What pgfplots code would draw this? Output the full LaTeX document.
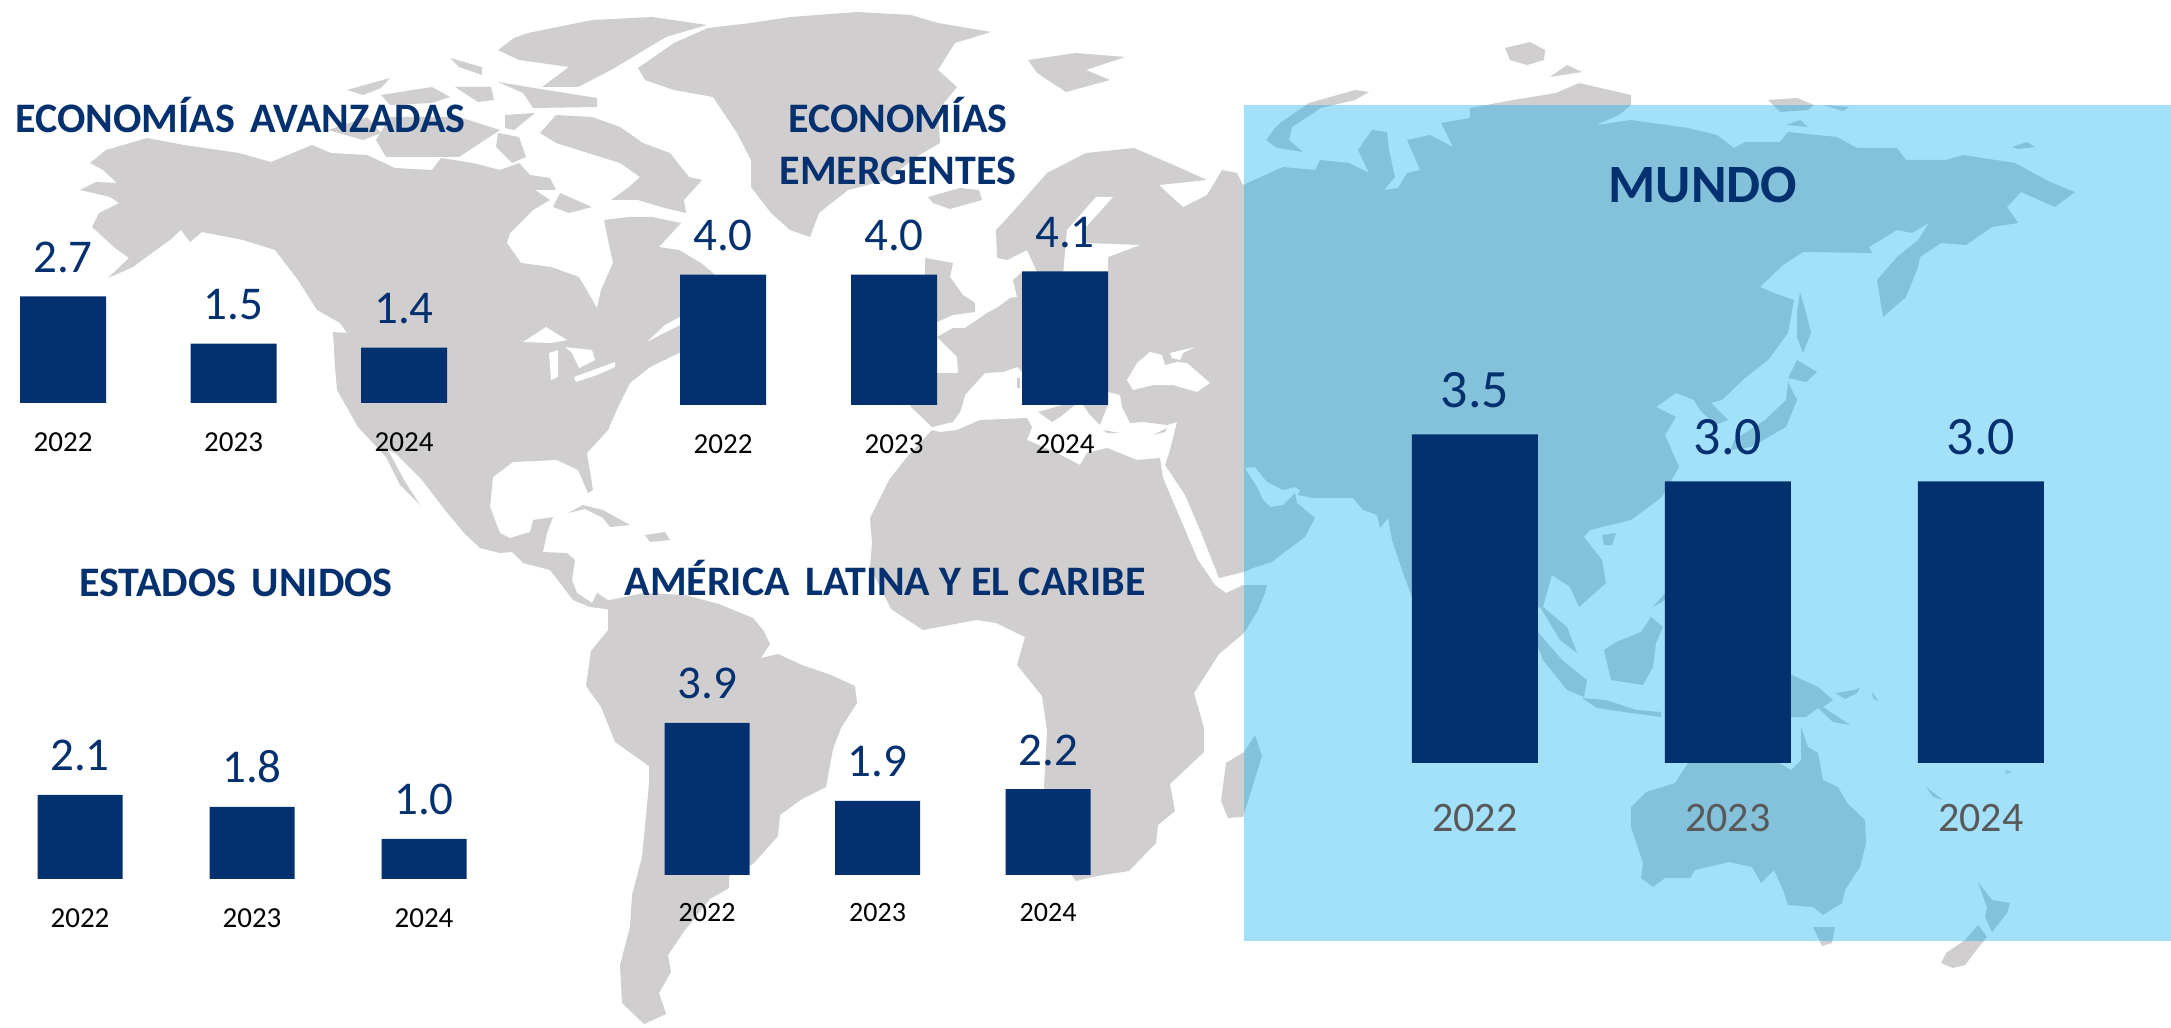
\documentclass[border=0pt]{standalone}
\usepackage{fontspec}
\setmainfont{Carlito}
\usepackage{pgfplots}
\pgfplotsset{compat=1.18}
\definecolor{mapgray}{HTML}{D0CECE}
\definecolor{barblue}{HTML}{03306F}
\definecolor{skyb}{HTML}{00ACF4}
\definecolor{yeargray}{HTML}{595959}
\newcommand{\landp}[1]{\addplot[fill=mapgray,draw=none,forget plot] coordinates {#1} --cycle;}
\newcommand{\whitep}[1]{\addplot[fill=white,draw=none,forget plot] coordinates {#1} --cycle;}
\newcommand{\fs}[1]{\fontsize{#1}{#1}\selectfont}
\def\yearcolor{black}
% \panel{left pt}{bottom pt}{x unit}{y unit}{bar width}{label font}{label up}{year font}{year down}
\newcommand{\panel}[9]{%
\begin{axis}[at={(#1pt,#2pt)},anchor=south west,x=#3pt,y=#4pt,
  xmin=-0.35,xmax=2.35,ymin=0,ymax=1,clip=false,ybar,bar width=#5pt,
  axis line style={draw=none},tick style={draw=none},ytick=\empty,
  xtick={0,1,2},xticklabels={2022,2023,2024},
  /pgf/number format/assume math mode=true,
  xticklabel style={anchor=base,yshift=-#9pt,font=\fs{#8},text=\yearcolor},
  nodes near coords,
  nodes near coords style={/pgf/number format/fixed,/pgf/number format/fixed zerofill,/pgf/number format/precision=1,
    /pgf/number format/assume math mode=true,anchor=base,yshift=#7pt,font=\fs{#6},color=barblue}]
\panelplot
\end{axis}}
\begin{document}
\begin{tikzpicture}
\path[use as bounding box] (0,0) rectangle (1085.5pt,513.5pt);
\begin{axis}[at={(0pt,0pt)},anchor=south west,scale only axis,width=1085.5pt,height=513.5pt,hide axis,
  xmin=0,xmax=2171,ymin=0,ymax=1027,y dir=reverse,clip=true]
% North America
\landp{(90,163)(106,150)(147,138)(184,145)(239,153)(271,162)(312,145)(331,153)(367,155)(395,168)(432,170)(441,158)(473,163)(500,170)(519,163)(530,175)(550,178)(556,190)(535,190)(550,200)(533,210)(510,233)(507,243)(521,263)(551,267)(579,277)(597,308)(601,290)(613,263)(608,240)(604,220)(629,217)(652,217)(681,223)(659,247)(679,250)(701,263)(713,273)(740,330)(700,350)(679,353)(650,367)(630,383)(618,407)(608,430)(587,453)(593,490)(588,493)(578,470)(557,460)(513,462)(493,477)(490,507)(500,533)(510,538)(530,532)(533,520)(553,517)(547,533)(543,552)(567,553)(575,560)(572,580)(577,593)(592,603)(597,593)(608,600)(613,600)(613,610)(590,607)(573,600)(550,570)(523,563)(512,552)(500,553)(480,548)(464,533)(445,510)(422,480)(395,453)(388,450)(404,480)(420,505)(422,507)(400,485)(386,457)(358,427)(337,390)(335,367)(333,332)(347,333)(340,323)(317,310)(298,280)(275,250)(243,240)(202,232)(190,242)(181,230)(170,240)(156,250)(133,267)(108,278)(129,258)(115,248)(92,227)(99,213)(119,203)(110,197)(80,190)(96,182)(117,183)(103,170)}
% Arctic islands
\landp{(540,133)(556,115)(592,117)(620,127)(643,143)(670,153)(689,177)(702,180)(684,200)(686,213)(661,207)(638,200)(611,200)(629,187)(640,177)(620,163)(588,153)(556,143)}
\landp{(560,193)(592,207)(569,213)(553,207)}
\landp{(528,33)(592,20)(652,17)(707,25)(666,37)(611,70)(578,87)(542,87)(569,67)(519,60)(498,50)(514,38)}
\landp{(498,82)(528,87)(597,98)(597,107)(533,108)(523,93)}
\landp{(450,58)(482,67)(482,75)(459,67)}
\landp{(347,90)(390,78)(381,88)(363,95)}
\landp{(381,95)(432,87)(450,97)(432,103)(390,105)}
\landp{(455,87)(491,87)(494,100)(478,102)}
\landp{(376,140)(390,117)(459,117)(500,130)(459,157)(386,157)}
\landp{(328,130)(367,117)(381,133)(363,140)}
\landp{(505,115)(535,113)(514,130)(505,128)}
\landp{(498,133)(519,137)(526,157)(512,163)(496,147)}
% Greenland, Iceland, Svalbard, Britain
\landp{(638,68)(674,43)(708,28)(751,23)(790,17)(858,12)(911,15)(938,23)(991,32)(955,43)(938,70)(957,87)(938,110)(940,143)(916,157)(887,180)(848,190)(819,213)(810,237)(790,230)(771,213)(751,187)(751,160)(737,133)(713,97)(674,90)(645,80)}
\landp{(928,197)(960,188)(979,190)(982,200)(950,209)(933,203)}
\landp{(1028,60)(1076,53)(1125,57)(1086,70)(1110,80)(1066,92)(1037,73)}
\landp{(925,258)(937,260)(953,263)(950,277)(963,295)(975,303)(975,312)(953,315)(937,322)(925,322)}
% Eurasia
\landp{(1108,392)(1060,380)(1022,372)(1017,367)(1003,372)(985,373)(965,395)(963,403)(960,412)(953,422)(932,427)(911,407)(905,385)(915,373)(958,373)(957,357)(937,337)(953,328)(965,328)(987,313)(998,307)(1010,298)(1017,297)(1013,280)(1022,272)(1037,272)(1027,250)(1007,260)(997,258)(996,230)(1010,215)(1047,173)(1086,153)(1134,148)(1178,167)(1207,180)(1159,185)(1175,200)(1183,207)(1207,195)(1222,170)(1237,173)(1243,185)(1283,167)(1315,170)(1320,160)(1349,163)(1369,173)(1358,150)(1372,130)(1387,132)(1389,150)(1395,177)(1384,190)(1398,188)(1407,173)(1420,170)(1407,140)(1430,135)(1453,147)(1441,123)(1470,118)(1470,108)(1513,100)(1556,93)(1579,83)(1631,95)(1631,105)(1619,115)(1596,125)(1631,120)(1688,128)(1717,135)(1734,148)(1745,142)(1780,142)(1788,132)(1837,137)(1857,148)(1897,148)(1906,160)(1946,160)(1963,155)(2015,163)(2050,182)(2075,192)(2055,207)(2021,192)(2007,207)(2018,223)(1992,227)(1966,245)(1941,243)(1920,257)(1918,267)(1906,297)(1883,317)(1877,280)(1897,257)(1918,240)(1929,223)(1912,233)(1897,230)(1869,247)(1872,253)(1803,252)(1783,265)(1760,287)(1774,293)(1794,300)(1788,333)(1768,360)(1745,378)(1722,400)(1711,403)(1728,420)(1715,425)(1700,410)(1694,400)(1676,393)(1656,407)(1676,417)(1665,435)(1679,467)(1662,497)(1631,520)(1590,530)(1584,537)(1602,560)(1606,583)(1579,607)(1570,587)(1552,575)(1543,607)(1567,627)(1577,653)(1560,640)(1540,607)(1500,620)(1470,690)(1440,690)(1412,597)(1403,573)(1392,540)(1388,518)(1380,528)(1377,515)(1363,510)(1353,498)(1313,498)(1298,495)(1300,490)(1295,487)(1283,490)(1267,482)(1255,467)(1245,468)(1257,487)(1263,500)(1270,507)(1283,505)(1295,493)(1297,503)(1315,518)(1305,537)(1290,548)(1272,562)(1253,568)(1244,572)(1219,578)(1200,530)(1185,495)(1165,465)(1170,450)(1177,422)(1167,425)(1143,422)(1130,423)(1122,407)(1120,395)}
\whitep{(1127,380)(1137,363)(1150,352)(1162,355)(1165,365)(1177,362)(1187,363)(1210,383)(1197,392)(1173,385)(1153,385)(1133,390)}
\whitep{(1170,353)(1195,347)(1183,353)(1180,360)(1172,358)}
\whitep{(1096,197)(1113,197)(1086,227)(1086,243)(1140,245)(1108,257)(1108,275)(1063,275)(1067,230)}
\landp{(1083,405)(1108,405)(1103,417)(1100,425)(1090,415)}
\landp{(1038,412)(1062,405)(1075,405)(1060,417)(1052,422)}
\landp{(1153,435)(1167,428)(1165,432)}
\landp{(1103,430)(1120,433)(1107,433)}
\landp{(1017,378)(1020,378)(1020,388)(1017,388)}
% Africa and islands
\landp{(932,430)(940,432)(957,430)(980,420)(1027,418)(1032,427)(1027,440)(1057,453)(1080,465)(1087,453)(1107,448)(1137,460)(1160,458)(1163,478)(1183,525)(1198,560)(1215,585)(1226,593)(1243,585)(1267,585)(1265,593)(1258,610)(1244,633)(1219,654)(1194,693)(1204,728)(1204,752)(1170,784)(1175,811)(1158,825)(1156,843)(1129,871)(1097,876)(1076,881)(1060,860)(1044,787)(1047,731)(1042,696)(1017,665)(1025,637)(996,623)(976,620)(923,630)(891,609)(870,567)(872,543)(870,518)(889,480)(907,457)}
\landp{(1255,735)(1262,756)(1243,817)(1228,818)(1221,801)(1226,763)(1244,752)}
% Northern Asian islands
\landp{(1280,123)(1309,103)(1355,90)(1369,92)(1355,100)(1321,108)(1292,127)(1289,140)(1303,152)(1277,148)(1266,140)(1275,128)}
\landp{(1505,48)(1530,42)(1545,50)(1544,60)(1527,65)(1510,60)}
\landp{(1550,77)(1567,65)(1582,72)}
\landp{(1768,100)(1797,98)(1814,105)(1808,110)(1780,112)}
\landp{(1823,105)(1849,107)(1843,111)}
\landp{(1786,125)(1800,120)(1808,127)}
\landp{(2012,147)(2027,142)(2035,147)(2018,149)}
\landp{(1800,292)(1806,313)(1811,333)(1803,353)(1797,337)(1797,313)}
\landp{(1797,360)(1817,372)(1806,382)(1788,378)}
\landp{(1788,382)(1797,400)(1786,427)(1751,447)(1731,450)(1734,440)(1765,420)(1786,400)}
% South East Asia and Oceania
\landp{(1602,535)(1616,533)(1612,545)(1604,545)}
\landp{(1651,617)(1663,627)(1656,643)(1653,667)(1643,685)(1611,680)(1604,650)(1616,642)(1641,632)}
\landp{(1538,632)(1562,660)(1587,680)(1584,697)(1567,690)(1543,660)(1538,647)}
\landp{(1582,698)(1606,700)(1636,710)(1661,712)(1661,717)(1631,713)(1597,708)}
\landp{(1653,607)(1665,593)(1665,600)}
\landp{(1780,670)(1792,675)(1818,687)(1833,700)(1823,707)(1850,725)(1833,722)(1818,708)(1806,717)(1780,717)}
\landp{(1835,693)(1855,690)(1860,687)(1857,693)(1845,699)}
\landp{(1872,692)(1879,702)(1873,698)}
\landp{(1801,727)(1808,747)(1818,753)(1823,780)(1838,787)(1847,803)(1865,820)(1866,843)(1860,867)(1845,890)(1842,903)(1823,915)(1813,907)(1788,905)(1783,890)(1774,870)(1761,883)(1752,867)(1729,862)(1695,870)(1690,878)(1665,878)(1653,887)(1641,878)(1643,863)(1631,827)(1631,807)(1646,792)(1675,783)(1688,763)(1779,763)(1791,770)(1801,760)}
\landp{(1813,927)(1835,927)(1832,943)(1822,946)}
\landp{(1978,882)(1992,900)(2010,903)(2007,913)(1992,932)(1985,917)(1987,908)}
\landp{(1978,925)(1987,937)(1978,948)(1965,965)(1953,968)(1941,963)(1946,953)(1965,940)}
\landp{(1926,787)(1943,800)(1933,797)}
\landp{(2005,770)(2012,772)(2007,774)}
% South America and Caribbean
\landp{(610,600)(644,593)(685,595)(719,604)(753,618)(763,630)(770,644)(761,658)(778,654)(802,665)(831,675)(855,686)(857,703)(841,728)(833,749)(826,787)(802,799)(780,815)(778,836)(753,864)(729,876)(729,888)(710,899)(685,930)(668,955)(671,972)(659,993)(666,1014)(644,1024)(622,1003)(620,965)(630,927)(632,895)(642,857)(649,784)(649,766)(615,742)(601,707)(586,686)(591,651)(608,630)(608,602)}
\landp{(568,513)(583,505)(603,510)(630,525)(610,527)(603,518)(585,509)}
\landp{(645,535)(665,532)(670,540)(650,542)}
% Lakes and gulfs
\whitep{(523,342)(546,327)(567,340)(551,343)}
\whitep{(549,353)(558,350)(558,377)(551,380)}
\whitep{(565,347)(592,350)(595,360)(579,368)(572,353)}
\whitep{(574,377)(615,362)(615,367)(597,375)(576,382)}
\whitep{(647,342)(665,325)(680,317)(680,325)(660,335)}
% Blue panel
\addplot[fill=skyb,fill opacity=0.36,draw=none,forget plot] coordinates {(1244,105)(2171,105)(2171,941)(1244,941)} --cycle;
% Titles
\node[anchor=base west,font=\fs{21}\bfseries,text=barblue,inner sep=0pt] at (axis cs:15,133) {ECONOMÍAS\hspace{3pt} AVANZADAS};
\node[anchor=base,font=\fs{21}\bfseries,text=barblue,inner sep=0pt] at (axis cs:898,133) {ECONOMÍAS};
\node[anchor=base,font=\fs{21}\bfseries,text=barblue,inner sep=0pt] at (axis cs:898,185) {EMERGENTES};
\node[anchor=base,font=\fs{21}\bfseries,text=barblue,inner sep=0pt] at (axis cs:236,596) {ESTADOS\hspace{3pt} UNIDOS};
\node[anchor=base,font=\fs{21}\bfseries,text=barblue,inner sep=0pt] at (axis cs:885,595) {AMÉRICA\hspace{3pt} LATINA Y EL CARIBE};
\node[anchor=base,font=\fs{27}\bfseries,text=barblue,inner sep=0pt] at (axis cs:1703,203) {MUNDO};
\end{axis}
% Panels: left = first centre - 0.35*spacing, in pt (px/2)
\def\panelplot{\addplot[fill=barblue,draw=none] coordinates {(0,2.7)(1,1.5)(2,1.4)};}
\panel{1.7}{312}{85.25}{19.75}{43}{23.5}{12}{14.5}{20}
\def\panelplot{\addplot[fill=barblue,draw=none] coordinates {(0,4.0)(1,4.0)(2,4.1)};}
\panel{331.6}{311}{85.5}{16.3}{43}{23.5}{12}{14.5}{20}
\def\panelplot{\addplot[fill=barblue,draw=none] coordinates {(0,2.1)(1,1.8)(2,1.0)};}
\panel{9.9}{74}{86}{20}{42.5}{23.5}{12}{14.5}{20}
\def\panelplot{\addplot[fill=barblue,draw=none] coordinates {(0,3.9)(1,1.9)(2,2.2)};}
\panel{323.7}{76}{85.25}{19.5}{42.5}{23.5}{12}{14}{19}
\def\yearcolor{yeargray}
\def\panelplot{\addplot[fill=barblue,draw=none] coordinates {(0,3.5)(1,3.0)(2,3.0)};}
\panel{693.2}{132}{126.5}{46.95}{63}{27}{13.5}{21}{30}
\end{tikzpicture}
\end{document}
